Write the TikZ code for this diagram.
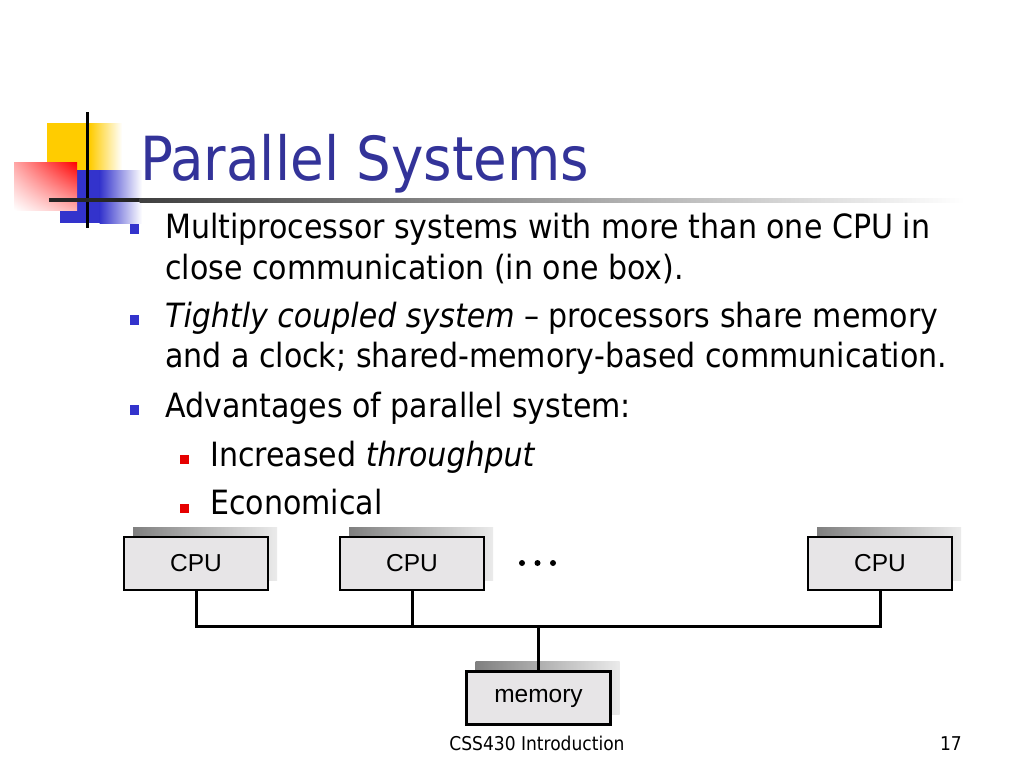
\documentclass[tikz,border=0pt]{standalone}
\usepackage{fontspec}
\setmainfont{DejaVu Sans Condensed}
\newfontfamily\arialf{Liberation Sans}
\usetikzlibrary{shadows,shadings}
\definecolor{titleblue}{RGB}{51,51,153}
\definecolor{bulblue}{RGB}{51,51,204}
\definecolor{bulred}{RGB}{230,0,0}
\definecolor{logoyellow}{RGB}{255,204,0}
\definecolor{boxgray}{RGB}{231,229,231}
\begin{document}
\begin{tikzpicture}[x=1pt,y=-1pt,
  txt/.style={anchor=base west, inner sep=0pt, font=\fontsize{33.4}{40}\selectfont},
  bulsq/.style={fill=bulblue, inner sep=0pt, minimum size=9.5pt},
  subsq/.style={fill=bulred, inner sep=0pt, minimum size=9pt},
  cpubox/.style={draw=black, line width=2.2pt, fill=boxgray, minimum width=144pt, minimum height=53pt, inner sep=0pt,
    font=\arialf\fontsize{24.5}{27}\selectfont,
    general shadow={shade, left color=black!50, right color=black!8, shadow xshift=9pt, shadow yshift=10pt}},
  bus/.style={line width=3pt}]
\useasboundingbox (0,0) rectangle (1024,768);
\fill[white] (0,0) rectangle (1024,768);
% logo
\fill[logoyellow] (47,123) rectangle (90,172);
\shade[left color=logoyellow, right color=white] (89.5,123) rectangle (122,172);
\fill[bulblue] (60,170) rectangle (100,223);
\shade[left color=bulblue, right color=white] (99.5,170) rectangle (142,223);
\shade[upper left=red!35!white, upper right=red, lower left=white, lower right=red!30!white] (14,162) rectangle (77,210);
\draw[line width=3pt] (87,112) -- (87,228);
\fill[black!85] (49,198) rectangle (140,202);
\shade[left color=black!75, right color=white] (139.5,198) rectangle (965,202);
% title
\node[anchor=base west, inner sep=0pt, text=titleblue, font=\fontsize{60.8}{70}\selectfont] (title) at (140,180) {Parallel Systems};
% bullets
\node[bulsq] (b1) at (134.5,229) {};
\node[txt] (t1) at (165,238) {Multiprocessor systems with more than one CPU in};
\node[txt] (t1b) at (165,279) {close communication (in one box).};
\node[bulsq] (b2) at (134.5,320) {};
\node[txt] (t2) at (165,327) {\textit{Tightly coupled system} -- processors share memory};
\node[txt] (t2b) at (165,367) {and a clock; shared-memory-based communication.};
\node[bulsq] (b3) at (134.5,410) {};
\node[txt] (t3) at (165,417) {Advantages of parallel system:};
\node[subsq] (s1) at (184,459) {};
\node[txt] (t4) at (210,466) {Increased \textit{throughput}};
\node[subsq] (s2) at (184,508) {};
\node[txt] (t5) at (210,514) {Economical};
% diagram
\node[cpubox] (c1) at (196,563.5) {CPU};
\node[cpubox] (c2) at (412,563.5) {CPU};
\node[cpubox] (c3) at (880,563.5) {CPU};
\node[cpubox] (mem) at (538.5,698) {memory};
\fill (522,563) circle (3pt);
\fill (537.5,563) circle (3pt);
\fill (553,563) circle (3pt);
\coordinate (busy) at (538.5,626);
\draw[bus] (c1.south) |- (busy) -| (c3.south);
\draw[bus] (c2.south) -- (c2.south |- busy);
\draw[bus] (mem.north) -- (busy);
% footer
\node[anchor=base, inner sep=0pt, font=\fontsize{19}{22}\selectfont] (foot) at (537,750) {CSS430 Introduction};
\node[anchor=base east, inner sep=0pt, font=\fontsize{19}{22}\selectfont] (page) at (962,750) {17};
\end{tikzpicture}
\end{document}
